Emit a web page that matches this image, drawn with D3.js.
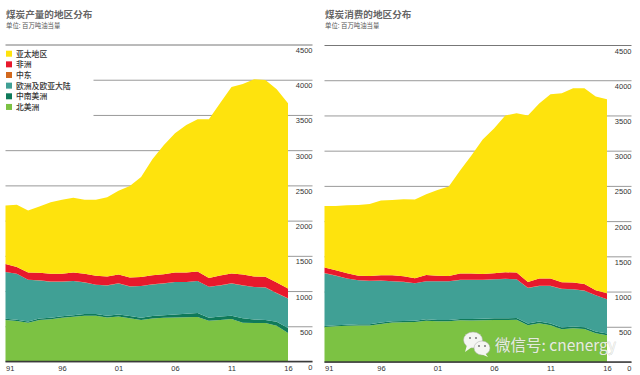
<!DOCTYPE html>
<html>
<head>
<meta charset="utf-8">
<script src="https://cdn.jsdelivr.net/npm/d3@7"></script>
<style>
  html, body { margin: 0; padding: 0; background: #fff; }
  svg { display: block; }
  text { font-family: "Noto Sans CJK SC", "Liberation Sans", sans-serif; }
  .num text { font-family: "Liberation Sans", sans-serif; font-size: 7.5px; fill: #333; }
</style>
</head>
<body>
<div id="chart"></div>
<script>
const years = [1991,1992,1993,1994,1995,1996,1997,1998,1999,2000,2001,2002,2003,2004,2005,2006,2007,2008,2009,2010,2011,2012,2013,2014,2015,2016];
const year_ticks = [1991,1996,2001,2006,2011,2016];
const value_ticks = [0,500,1000,1500,2000,2500,3000,3500,4000,4500];

const region_names = ["北美洲","中南美洲","欧洲及欧亚大陆","中东","非洲","亚太地区"];
const region_colors = ["#7cc243","#0f7a5a","#40a095","#d2691e","#e8192c","#fee30d"];

// production, million tonnes oil equivalent
const prod_north_america = [590,575,550,590,600,620,635,650,650,625,640,615,590,610,620,625,628,632,580,590,605,550,545,545,508,405];
const prod_south_america = [18,18,18,20,20,22,22,24,24,26,28,30,32,36,38,42,50,56,42,50,45,65,50,45,57,70];
const prod_europe = [661,652,592,540,512,490,484,448,415,429,440,420,448,448,450,460,449,453,438,440,458,465,461,461,405,420];
const prod_middle_east = [2,2,2,2,2,2,2,2,2,2,2,2,2,2,2,2,2,2,2,2,2,2,2,2,2,2];
const prod_africa = [112,93,102,108,111,111,121,121,126,125,126,126,126,130,130,135,135,135,122,140,140,154,149,150,150,140];
const prod_asia = [833,885,881,940,1015,1051,1061,1051,1079,1123,1188,1297,1422,1644,1830,1976,2093,2162,2256,2448,2645,2704,2798,2792,2743,2628];

// consumption
const cons_north_america = [496,506,515,519,519,541,560,564,569,586,577,577,591,589,593,596,596,600,522,550,522,465,479,469,408,380];
const cons_south_america = [15,15,15,16,16,18,18,18,18,20,20,20,20,22,22,24,24,25,25,25,25,25,25,25,25,25];
const cons_europe = [749,705,654,625,615,596,568,554,530,540,549,549,554,554,550,554,559,549,504,505,533,547,528,519,514,485];
const cons_middle_east = [2,2,2,2,2,2,2,2,2,2,2,2,2,2,2,2,2,2,2,2,2,2,2,2,2,2];
const cons_africa = [78,74,74,64,70,74,83,79,69,88,78,74,88,88,83,84,93,93,83,102,102,93,93,93,69,83];
const cons_asia = [876,914,965,1004,1022,1061,1070,1094,1118,1146,1214,1268,1463,1675,1910,2055,2226,2261,2364,2486,2616,2683,2758,2777,2752,2755];

const svg = d3.select("#chart").append("svg")
    .attr("width", 640)
    .attr("height", 375);

svg.append("rect").attr("width", 640).attr("height", 375).attr("fill", "#fff");

function draw_panel(left, top_offset, title, series, has_legend) {
    const margin = {top: 44.5 + top_offset, left: left};
    const plot_w = 282.5, plot_h = 317;

    const x = d3.scaleLinear().domain([1991, 2016]).range([0, plot_w]);
    const y = d3.scaleLinear().domain([0, 4500]).range([plot_h, 0]);

    const g = svg.append("g")
        .attr("transform", `translate(${margin.left},${margin.top})`);

    // Grid lines and value labels
    const y_axis = g.append("g")
        .attr("class", "num")
        .attr("transform", "translate(307,0)")
        .call(d3.axisRight(y).tickValues(value_ticks).tickSize(-307).tickPadding(0).tickFormat(d3.format("d")));
    y_axis.select(".domain").remove();
    y_axis.selectAll("line").attr("stroke", "#999").attr("stroke-width", 1);
    y_axis.selectAll("text")
        .attr("x", 0).attr("dy", 0).attr("y", 8)
        .attr("text-anchor", "end");
    y_axis.selectAll(".tick").filter(d => d === 4500).select("line").attr("stroke", "#777");

    // Legend sits on a clear patch, grid stops short of it
    if (has_legend) {
        g.append("rect")
            .attr("x", -1).attr("y", y(4500) + 3)
            .attr("width", 89).attr("height", y(3000) - y(4500) - 6)
            .attr("fill", "#fff");
    }

    // Stacked areas
    const rows = years.map((yr, i) => {
        const row = {year: yr};
        region_names.forEach((name, k) => { row[name] = series[k][i]; });
        return row;
    });
    const stacked = d3.stack().keys(region_names)(rows);
    const area = d3.area()
        .x(d => x(d.data.year))
        .y0(d => y(d[0]))
        .y1(d => y(d[1]));

    g.selectAll("path.layer")
        .data(stacked)
        .join("path")
        .attr("class", "layer")
        .attr("fill", (d, i) => region_colors[i])
        .attr("d", area);

    // Year axis
    const x_axis = g.append("g")
        .attr("class", "num")
        .attr("transform", `translate(0,${plot_h})`)
        .call(d3.axisBottom(x).tickValues(year_ticks).tickSize(0).tickPadding(4)
            .tickFormat(d => String(d).slice(2)));
    x_axis.select(".domain").remove();
    x_axis.selectAll("text").attr("text-anchor", d => d === 1991 ? "start" : "middle");

    g.append("line")
        .attr("x1", 0).attr("x2", 307)
        .attr("y1", y(0)).attr("y2", y(0))
        .attr("stroke", "#3a3a3a").attr("stroke-width", 1.5);

    // Titles
    svg.append("text")
        .attr("x", left + 0.5).attr("y", 18)
        .attr("font-size", 9.6).attr("font-weight", 700).attr("fill", "#666")
        .text(title);
    svg.append("text")
        .attr("x", left + 0.5).attr("y", 28)
        .attr("font-size", 6.4).attr("fill", "#555")
        .text("单位: 百万吨油当量");

    if (has_legend) {
        const legend = svg.append("g");
        const order = region_names.map((n, i) => i).reverse();
        order.forEach((k, row) => {
            const ly = 53.7 + row * 10.65;
            legend.append("rect")
                .attr("x", 6).attr("y", ly - 3).attr("width", 6).attr("height", 6)
                .attr("fill", region_colors[k]);
            legend.append("text")
                .attr("x", 16).attr("y", ly + 3)
                .attr("font-size", 7.8).attr("font-weight", 500).attr("fill", "#333")
                .text(region_names[k]);
        });
    }
}

draw_panel(5.5, 0, "煤炭产量的地区分布",
    [prod_north_america, prod_south_america, prod_europe, prod_middle_east, prod_africa, prod_asia], true);
draw_panel(324.5, 0.5, "煤炭消费的地区分布",
    [cons_north_america, cons_south_america, cons_europe, cons_middle_east, cons_africa, cons_asia], false);

// WeChat watermark
const mark = svg.append("g").attr("transform", "translate(476,344)");
const bubble_fill = "#f4f6f2";
mark.append("ellipse").attr("cx", -3).attr("cy", -4).attr("rx", 9.5).attr("ry", 8)
    .attr("fill", bubble_fill).attr("stroke", "#aaa").attr("stroke-width", 0.5);
mark.append("path").attr("d", "M-9,1 L-11,8 L-4,3 Z").attr("fill", bubble_fill);
mark.append("ellipse").attr("cx", 6).attr("cy", 4).attr("rx", 8).attr("ry", 7)
    .attr("fill", bubble_fill).attr("stroke", "#aaa").attr("stroke-width", 0.5);
mark.append("path").attr("d", "M9,9 L12,13 L5,10 Z").attr("fill", bubble_fill);
[[-6,-6],[0,-6],[3,2],[9,2]].forEach(p => {
    mark.append("circle").attr("cx", p[0]).attr("cy", p[1]).attr("r", 1).attr("fill", "#777");
});
svg.append("text")
    .attr("x", 495).attr("y", 351)
    .attr("font-size", 15.5)
    .attr("fill", "#f3f5ef")
    .attr("fill-opacity", 0.9)
    .attr("stroke", "#8a8a8a").attr("stroke-width", 0.4).attr("stroke-opacity", 0.6)
    .attr("paint-order", "stroke")
    .text("微信号: cnenergy");
</script>
</body>
</html>
